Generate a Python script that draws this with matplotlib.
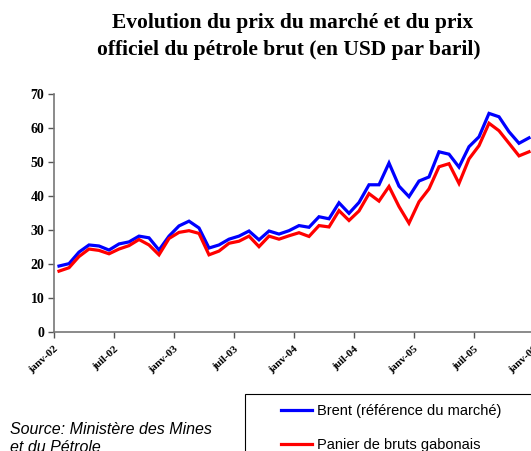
import matplotlib
matplotlib.use("Agg")
import matplotlib.pyplot as plt
from matplotlib.patches import Rectangle

# monthly prices, janv-02 .. dec-05 (USD per barrel)
brent = [19.4, 20.1, 23.5, 25.6, 25.3, 24.1, 25.9, 26.5, 28.2, 27.7, 24.1, 28.2,
         31.2, 32.6, 30.6, 24.7, 25.6, 27.3, 28.2, 29.7, 27.1, 29.7, 28.8, 29.8,
         31.3, 30.8, 33.9, 33.3, 38.0, 34.9, 38.1, 43.3, 43.3, 49.7, 42.9, 39.8,
         44.4, 45.6, 53.0, 52.3, 48.5, 54.5, 57.4, 64.3, 63.3, 58.9, 55.5, 57.1]
gabon = [17.9, 18.9, 22.2, 24.4, 24.0, 23.0, 24.4, 25.4, 27.2, 25.6, 22.7, 27.5,
         29.3, 29.8, 29.0, 22.7, 23.8, 26.1, 26.7, 28.2, 25.1, 28.2, 27.3, 28.3,
         29.2, 28.1, 31.3, 30.9, 35.7, 32.8, 35.6, 40.7, 38.5, 42.8, 36.9, 32.0,
         38.3, 42.1, 48.6, 49.5, 43.7, 50.9, 54.8, 61.4, 59.2, 55.5, 51.8, 53.0]
tick_labels = ["janv-02", "juil-02", "janv-03", "juil-03", "janv-04",
               "juil-04", "janv-05", "juil-05", "janv-06"]

serif = ["Liberation Serif", "DejaVu Serif"]
sans = ["Liberation Sans", "DejaVu Sans"]

fig = plt.figure(figsize=(5.31, 4.51), dpi=100)
# axes runs past the right edge like the cropped original
ax = fig.add_axes([54 / 531, 119 / 451, 480 / 531, 238 / 451])

x = [i + 0.5 for i in range(len(brent))]
l1, = ax.plot(x, brent, color="#0000FF", lw=2.3, solid_joinstyle="miter")
l2, = ax.plot(x, gabon, color="#FF0000", lw=2.3, solid_joinstyle="miter")

ax.set_xlim(0, 48)
ax.set_ylim(0, 70)
ax.set_yticks(range(0, 71, 10))
ax.set_xticks(range(0, 49, 6))
ax.set_xticklabels(tick_labels, rotation=42, ha="right", va="top",
                   rotation_mode="anchor", family=serif, fontweight="bold", fontsize=8)
for lab in ax.get_yticklabels():
    lab.set_family(serif)
    lab.set_fontweight("bold")
    lab.set_fontsize(10)
ax.tick_params(axis="both", direction="out", length=4, width=1, color="#555555", pad=3)
ax.tick_params(axis="x", pad=5)
for side in ("top", "right"):
    ax.spines[side].set_visible(False)
for side in ("left", "bottom"):
    ax.spines[side].set_color("#777777")
    ax.spines[side].set_linewidth(1.2)

fig.text(0.551, 1 - 23 / 451, "Evolution du prix du marché et du prix",
         ha="center", va="center", family=serif, fontweight="bold", fontsize=15.5)
fig.text(0.543, 1 - 50 / 451, "officiel du pétrole brut (en USD par baril)",
         ha="center", va="center", family=serif, fontweight="bold", fontsize=15.5)

fig.text(10 / 531, 1 - 429 / 451, "Source: Ministère des Mines", ha="left", va="center",
         family=sans, style="italic", fontsize=11.5)
fig.text(10 / 531, 1 - 448 / 451, "et du Pétrole", ha="left", va="center",
         family=sans, style="italic", fontsize=11.5)

# legend box, cut by the right and bottom edges
fig.add_artist(Rectangle((245 / 531, -0.2), 0.6, 0.2 + 1 - 394 / 451,
                         transform=fig.transFigure, fill=False,
                         edgecolor="black", linewidth=0.8))
leg = fig.legend([l1, l2], ["Brent (référence du marché)", "Panier de bruts gabonais"],
                 loc="upper left", bbox_to_anchor=(281 / 531, 1 - 404 / 451),
                 frameon=False, handlelength=2.1, handletextpad=0.35,
                 labelspacing=1.35, borderpad=0, borderaxespad=0,
                 prop={"family": sans, "size": 10.5})

fig.savefig("out.png", dpi=100)
